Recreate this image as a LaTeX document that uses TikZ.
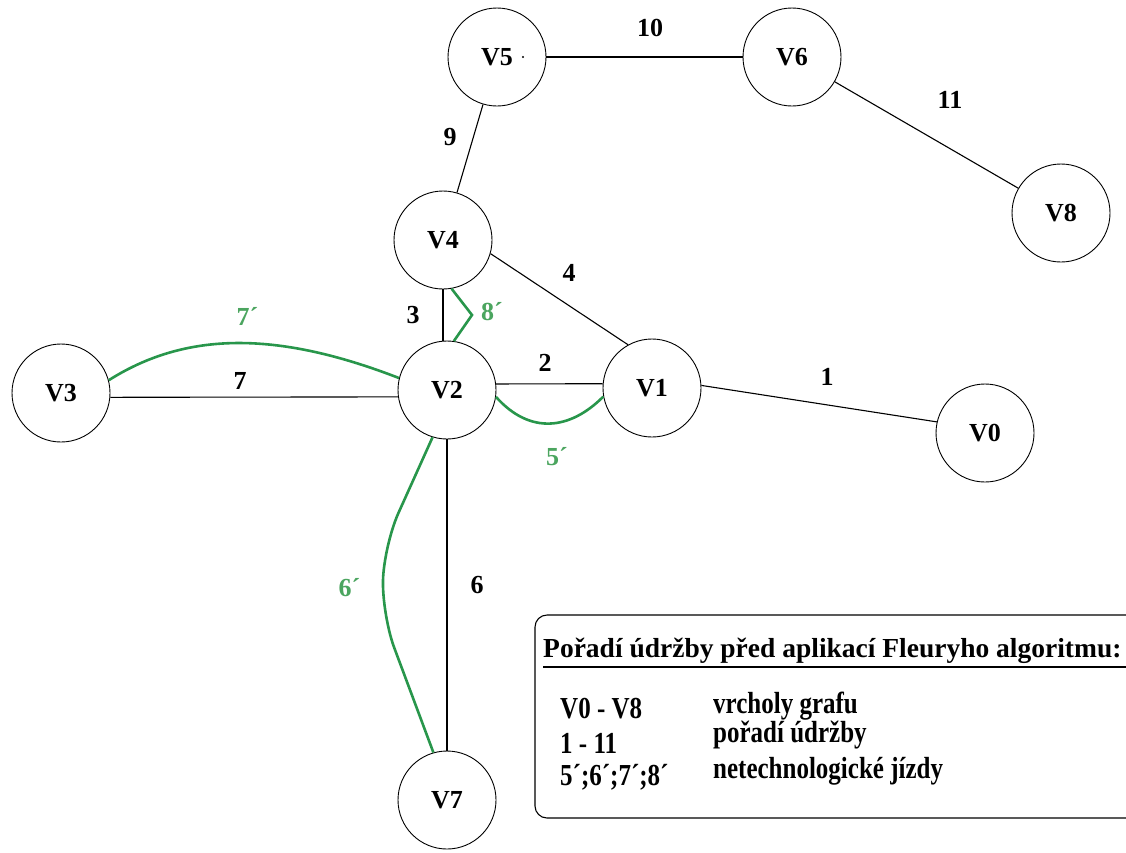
\documentclass[tikz,border=0pt]{standalone}
\usepackage{fontspec}
\setmainfont{Liberation Serif}
\definecolor{grn}{RGB}{40,150,75}
\definecolor{grntext}{RGB}{75,165,95}
\newcommand{\tallrow}[1]{\scalebox{1}[1.22]{#1}}
\begin{document}
\begin{tikzpicture}[x=1pt,y=-1pt,
  vtx/.style={circle,draw,line width=0.9pt,minimum size=98pt,inner sep=0pt,font=\fontsize{26}{30}\selectfont\bfseries},
  edge/.style={line width=1.1pt},
  walk/.style={draw=grn,line width=2.6pt},
  elab/.style={font=\fontsize{26}{30}\selectfont\bfseries,inner sep=0pt},
  glab/.style={elab,text=grntext,anchor=west},
  leg/.style={font=\fontsize{25}{30}\selectfont\bfseries,anchor=base west,inner sep=0pt}]
\useasboundingbox (0,0) rectangle (1126,852);
\clip (0,0) rectangle (1126,852);
\fill[white] (0,0) rectangle (1126,852);

% vertices
\node[vtx] (V5) at (497,57) {V5};
\node[vtx] (V6) at (792,57) {V6};
\node[vtx] (V8) at (1061,213) {V8};
\node[vtx] (V4) at (443,240) {V4};
\node[vtx] (V2) at (447,390) {V2};
\node[vtx] (V1) at (652,388) {V1};
\node[vtx] (V0) at (985,433) {V0};
\node[vtx] (V3) at (61,393) {V3};
\node[vtx] (V7) at (447,800) {V7};
\fill (523,57) circle (1.1pt);

% edges
\draw[edge] (V5) -- (V6);
\draw[edge] (V5) -- (V4);
\draw[edge] (V6) -- (V8);
\draw[edge] (V4.-16) -- (V1.119);
\draw[edge] (V4.south) -- (V4.south |- V2.north);
\draw[edge] (V2.7) -- (V1.175);
\draw[edge] (V1.3) -- (V0.167);
\draw[edge] (V3.-5) -- (V2.188);
\draw[edge] (V2.south) -- (V7.north);

% non-technological rides
\coordinate (k8) at (472,315);
\coordinate (k6a) at (384,545);
\coordinate (k6b) at (382,615);
\draw[walk] (V3.15) .. controls (185,332) and (275,330) .. (V2.166);
\draw[walk] (V4.-80) -- (k8) -- (V2.82);
\draw[walk] (V2.-8) .. controls (530,435) and (570,430) .. (V1.-170);
\draw[walk,rounded corners=35pt] (V2.-107) -- (k6a) -- (k6b) -- (V7.106);

% edge labels
\node[elab] (l10) at (650,28) {10};
\node[elab] (l11) at (950,100) {11};
\node[elab] (l9) at (450,137) {9};
\node[elab] (l4) at (569,273) {4};
\node[elab] (l3) at (413,315) {3};
\node[elab] (l2) at (545,363) {2};
\node[elab] (l1) at (827,377) {1};
\node[elab] (l7) at (240,381) {7};
\node[elab] (l6) at (477,585) {6};
\node[glab] (g7) at (236.5,316) {7´};
\node[glab] (g8) at (481,312) {8´};
\node[glab] (g5) at (546,457) {5´};
\node[glab] (g6) at (338.5,588) {6´};

% legend
\draw[line width=1.1pt,rounded corners=12pt] (535,615) rectangle (1160,818);
\node[anchor=base west,inner sep=0pt,font=\fontsize{27.5}{30}\selectfont\bfseries] (title) at (543,657) {Pořadí údržby před aplikací Fleuryho algoritmu:};
\draw[line width=1.4pt] (543,667) -- (1126,667);
\node[leg] (a1) at (560,718) {\tallrow{V0 - V8}};
\node[leg] (a2) at (560,753) {\tallrow{1 - 11}};
\node[leg] (a3) at (560,785) {\tallrow{5´;6´;7´;8´}};
\node[leg] (b1) at (713,713) {\tallrow{vrcholy grafu}};
\node[leg] (b2) at (713,742) {\tallrow{pořadí údržby}};
\node[leg] (b3) at (713,778) {\tallrow{netechnologické jízdy}};
\end{tikzpicture}
\end{document}
